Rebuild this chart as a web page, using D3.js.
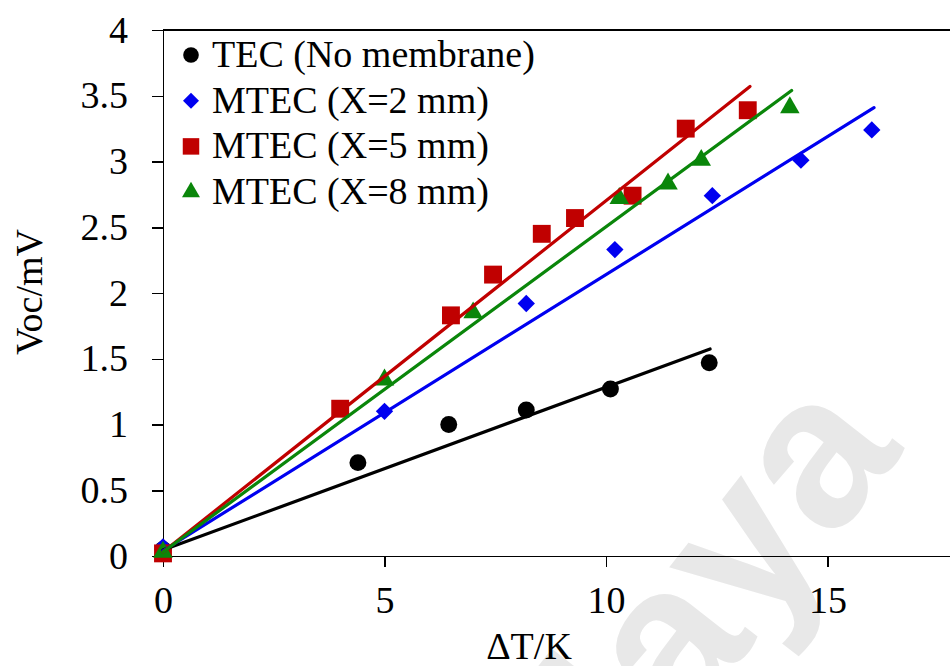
<!DOCTYPE html>
<meta charset="utf-8">
<style>
  body { margin: 0; background: #fff; }
  .axis path, .axis line { fill: none; stroke: #000; stroke-width: 1.5px; shape-rendering: crispEdges; }
  .axis text { font-family: "Liberation Serif", "Times New Roman", serif; font-size: 38px; fill: #000; }
  .lbl { font-family: "Liberation Serif", "Times New Roman", serif; font-size: 38px; fill: #000; }
</style>
<div class="chart"></div>
<script src="https://cdn.jsdelivr.net/npm/d3@7"></script>
<script>
// values
var tecX   = [0, 4.4, 6.45, 8.2, 10.1, 12.33];
var tecY   = [0.05, 0.71, 1.0, 1.11, 1.27, 1.47];
var mtec2X = [0, 5.0, 8.2, 10.2, 12.4, 14.4, 16.0];
var mtec2Y = [0.07, 1.10, 1.92, 2.33, 2.74, 3.01, 3.24];
var mtec5X = [0, 4.0, 6.5, 7.45, 8.55, 9.3, 10.6, 11.8, 13.2];
var mtec5Y = [0.02, 1.12, 1.83, 2.14, 2.45, 2.57, 2.74, 3.25, 3.39];
var mtec8X = [0, 5.0, 7.0, 10.3, 11.4, 12.15, 14.15];
var mtec8Y = [0.03, 1.34, 1.85, 2.72, 2.83, 3.01, 3.41];

// linear fit lines (start / end)
var tecFitX = [0, 12.35],   tecFitY = [0.045, 1.574];
var mtec2FitX = [0, 16.05], mtec2FitY = [0.04, 3.41];
var mtec5FitX = [0, 13.25], mtec5FitY = [0.03, 3.57];
var mtec8FitX = [0, 14.19], mtec8FitY = [0.03, 3.54];

var seriesNames = ["TEC (No membrane)", "MTEC (X=2 mm)", "MTEC (X=5 mm)", "MTEC (X=8 mm)"];
var xTicks = [0, 5, 10, 15];
var yTicks = [0, 0.5, 1, 1.5, 2, 2.5, 3, 3.5, 4];

var W = 950, H = 666;
var plotLeft = 163, plotTop = 30, plotBottom = 556;

var series = [
  {name: seriesNames[0], xs: tecX, ys: tecY, fx: tecFitX, fy: tecFitY, color: "#000000", type: d3.symbolCircle, size: 225, rot: 0},
  {name: seriesNames[1], xs: mtec2X, ys: mtec2Y, fx: mtec2FitX, fy: mtec2FitY, color: "#0000f0", type: d3.symbolSquare, size: 150, rot: 45},
  {name: seriesNames[2], xs: mtec5X, ys: mtec5Y, fx: mtec5FitX, fy: mtec5FitY, color: "#c00000", type: d3.symbolSquare, size: 320, rot: 0},
  {name: seriesNames[3], xs: mtec8X, ys: mtec8Y, fx: mtec8FitX, fy: mtec8FitY, color: "#0a860a", type: d3.symbolTriangle, size: 165, rot: 0}
];

var x = d3.scaleLinear().domain([0, 20]).range([plotLeft, plotLeft + 44.3 * 20]);
var y = d3.scaleLinear().domain([0, 4]).range([plotBottom, plotTop]);

var svg = d3.select(".chart").append("svg")
  .attr("width", W).attr("height", H)
  .style("display", "block").style("background", "#fff");

// watermark behind everything
svg.append("text")
  .attr("transform", "translate(905,450) rotate(-52)")
  .attr("text-anchor", "end")
  .style("font-family", "'Liberation Sans', Arial, sans-serif")
  .style("font-weight", "bold")
  .style("font-size", "215px")
  .style("fill", "#e8e8e8")
  .text("Malaya");

// axes
svg.append("g").attr("class", "axis")
  .attr("transform", "translate(" + plotLeft + ",0)")
  .call(d3.axisLeft(y).tickValues(yTicks).tickFormat(function(d){ return String(d); })
    .tickSize(11).tickSizeOuter(0).tickPadding(24));

svg.append("g").attr("class", "axis")
  .attr("transform", "translate(0," + plotBottom + ")")
  .call(d3.axisBottom(x).tickValues(xTicks).tickFormat(function(d){ return String(d); })
    .tickSize(11).tickSizeOuter(0).tickPadding(19));

// top frame line
svg.append("line")
  .attr("x1", x(0)).attr("x2", x(20)).attr("y1", y(4)).attr("y2", y(4))
  .attr("stroke", "#000").attr("stroke-width", 1.5).style("shape-rendering", "crispEdges");

// markers
series.forEach(function(s){
  var sym = d3.symbol().type(s.type).size(s.size);
  svg.append("g").selectAll("path")
    .data(s.xs.map(function(v, i){ return [v, s.ys[i]]; }))
    .enter().append("path")
    .attr("d", sym)
    .attr("fill", s.color)
    .attr("transform", function(d){ return "translate(" + x(d[0]) + "," + y(d[1]) + ") rotate(" + s.rot + ")"; });
});

// fit lines on top
var line = d3.line().x(function(d){ return x(d[0]); }).y(function(d){ return y(d[1]); });
series.forEach(function(s){
  svg.append("path")
    .datum(s.fx.map(function(v, i){ return [v, s.fy[i]]; }))
    .attr("d", line)
    .attr("fill", "none")
    .attr("stroke", s.color)
    .attr("stroke-width", 3.2)
    .attr("stroke-linecap", "round");
});

// legend
var leg = svg.append("g").attr("transform", "translate(191,55)");
series.forEach(function(s, i){
  var g = leg.append("g").attr("transform", "translate(0," + (i * 45.7) + ")");
  g.append("path")
    .attr("d", d3.symbol().type(s.type).size(s.size * 0.85)())
    .attr("fill", s.color)
    .attr("transform", "rotate(" + s.rot + ")");
  g.append("text").attr("class", "lbl")
    .attr("x", 21).attr("y", 12)
    .text(s.name);
});

// axis titles
svg.append("text").attr("class", "lbl")
  .attr("x", 529).attr("y", 659)
  .attr("text-anchor", "middle")
  .text("\u0394T/K");

svg.append("text").attr("class", "lbl")
  .attr("transform", "translate(42,292) rotate(-90)")
  .attr("text-anchor", "middle")
  .text("Voc/mV");
</script>
